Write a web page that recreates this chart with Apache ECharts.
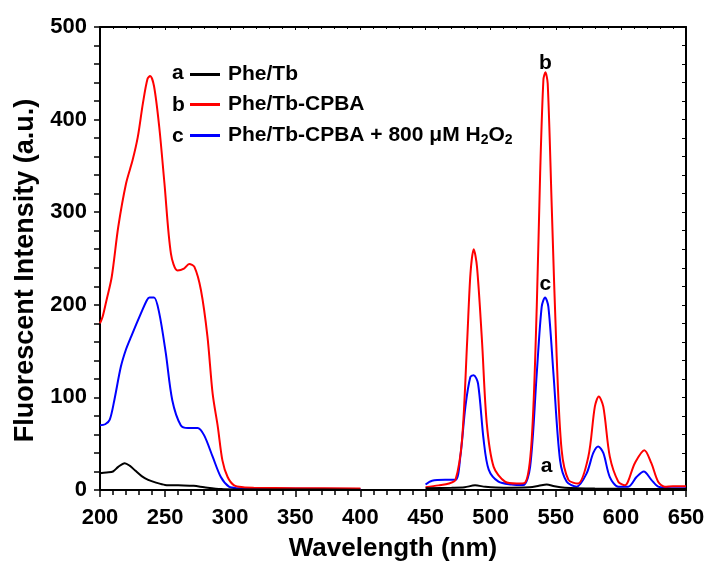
<!DOCTYPE html>
<html>
<head>
<meta charset="utf-8">
<script src="https://cdn.jsdelivr.net/npm/echarts@6/dist/echarts.min.js"></script>
<style>
  html, body { margin: 0; padding: 0; background: #fff; }
  #chart { width: 708px; height: 566px; }
</style>
</head>
<body>
<div id="chart"></div>
<script>
// wavelength ticks
const xTicks = [200, 250, 300, 350, 400, 450, 500, 550, 600, 650];
const yTicks = [0, 100, 200, 300, 400, 500];

const seriesNames = ['Phe/Tb', 'Phe/Tb-CPBA', 'Phe/Tb-CPBA + 800 μM H2O2'];
const seriesLetters = ['a', 'b', 'c'];
const seriesColors = ['#000000', '#ff0000', '#0000ff'];

// a: Phe/Tb, excitation part (200-400) and emission part (450-650)
const aExc = [[200, 18], [205, 19], [210, 20], [214, 25], [219, 29], [223, 26], [227, 21],
  [232, 15], [237, 11], [243, 8], [250, 5.5], [260, 5], [272, 4.5], [280, 3], [293, 1],
  [305, 0.6], [350, 0.5], [400, 0.4]];
const aEm = [[450, 2], [470, 2.5], [480, 3], [488, 5], [496, 3.5], [510, 2.5], [530, 3],
  [537, 4.5], [543, 6], [549, 4], [557, 2.5], [580, 1.5], [610, 1.2], [650, 1]];

// b: Phe/Tb-CPBA
const bExc = [[200, 180], [202, 187], [205, 205], [209, 230], [214, 284], [220, 331],
  [225, 356], [229, 381], [233, 418], [236.5, 444], [238.5, 447], [241.5, 436],
  [245.5, 392], [249.5, 331], [254.5, 255], [259.5, 237], [264.5, 239], [268.5, 244],
  [272.5, 241], [277.5, 216], [282.5, 166], [286.5, 104], [290.5, 68], [294, 32],
  [298, 14], [303, 5], [310, 3], [318, 2.5], [350, 2], [400, 1.5]];
const bEm = [[450, 3], [460, 5], [468, 7], [473, 11], [478, 54], [482, 162], [484.5, 234],
  [487, 260], [489.5, 241], [493.3, 162], [497, 72], [502.3, 25], [511, 9], [520, 7],
  [526.5, 8], [531.5, 54], [535.4, 198], [538, 342], [540.5, 443], [542, 451],
  [543.8, 439], [546.9, 306], [550.7, 144], [554.5, 43], [559.7, 11], [567, 7],
  [575, 36], [580, 90], [583, 101], [586.5, 90], [591.5, 36], [598, 9], [603, 5],
  [610.7, 29], [618, 43], [623.4, 29], [628.6, 9], [633.7, 3.6], [640, 4], [650, 4]];

// c: Phe/Tb-CPBA + 800 μM H2O2
const cExc = [[200, 70], [204, 71], [207.5, 76], [211, 97], [216, 133], [220, 152],
  [224, 166], [231.5, 191], [236, 205], [238, 208], [241.5, 208], [245.5, 191],
  [250.5, 148], [255.5, 97], [262, 70], [267.5, 67], [275, 67], [280, 59], [286.5, 36],
  [292.8, 14], [299, 3.6], [305, 2], [330, 1.5], [400, 1]];
const cEm = [[450, 6], [455, 10], [465, 11], [473, 11], [476.7, 36], [480.6, 90],
  [484.4, 122], [487, 124], [490.3, 115], [494.6, 54], [498.5, 22], [506, 9],
  [516, 6], [525, 5.4], [530.3, 25], [535.4, 126], [539.2, 198], [541.8, 208],
  [544.3, 198], [548.2, 126], [553.3, 32], [558.4, 9], [566, 3.6], [573.7, 18],
  [578.8, 40], [582.6, 47], [586.5, 40], [591.5, 14], [598, 3.6], [605.6, 3.6],
  [612, 14], [617.6, 20], [623.4, 11], [628.6, 3.6], [638.8, 2], [650, 2]];

// peak labels: letter, wavelength, intensity at peak
const peakLabels = [['a', 543, 6], ['b', 542, 451], ['c', 542, 208]];

const FONT = 'Liberation Sans, Arial, sans-serif';

function joinParts(exc, em) {
    // the two scans are not connected between 400 and 450 nm
    return exc.concat([[425, '-']], em);
}

const allData = [joinParts(aExc, aEm), joinParts(bExc, bEm), joinParts(cExc, cEm)];

const chart = echarts.init(document.getElementById('chart'));

const peakOffsets = { a: 8, b: -1, c: 3 };

const series = seriesNames.map((name, i) => {
    const lab = peakLabels.find(p => p[0] === seriesLetters[i]);
    return {
        name: name,
        type: 'line',
        data: allData[i],
        showSymbol: false,
        smooth: 0.3,
        connectNulls: false,
        lineStyle: { color: seriesColors[i], width: 2 },
        itemStyle: { color: seriesColors[i] },
        z: i === 0 ? 4 : 3 - i + 1,
        markPoint: {
            symbol: 'circle',
            symbolSize: 0,
            silent: true,
            data: [{
                coord: [lab[1], lab[2]],
                label: {
                    show: true,
                    position: 'top',
                    distance: peakOffsets[lab[0]],
                    formatter: lab[0],
                    color: '#000',
                    fontFamily: FONT,
                    fontWeight: 'bold',
                    fontSize: 21
                }
            }]
        }
    };
});

const axisLabelStyle = {
    color: '#000',
    fontFamily: FONT,
    fontWeight: 'bold',
    fontSize: 22
};

chart.setOption({
    animation: false,
    backgroundColor: '#fff',
    grid: { left: 100, right: 22, top: 27, bottom: 76, outerBoundsMode: 'none', containLabel: false },
    legend: {
        orient: 'vertical',
        left: 185,
        top: 59,
        itemWidth: 30,
        itemHeight: 3,
        itemGap: 9,
        icon: 'rect',
        selectedMode: false,
        data: seriesNames,
        formatter: function (name) {
            if (name.indexOf('H2O2') >= 0) {
                return '{n|' + name.replace('H2O2', 'H') + '}{s|2}{n|O}{s|2}';
            }
            return '{n|' + name + '}';
        },
        textStyle: {
            color: '#000',
            fontFamily: FONT,
            fontWeight: 'bold',
            fontSize: 21,
            padding: [0, 0, 0, 3],
            rich: {
                n: { fontFamily: FONT, fontWeight: 'bold', fontSize: 21, lineHeight: 23, color: '#000' },
                s: { fontFamily: FONT, fontWeight: 'bold', fontSize: 14, lineHeight: 23, padding: [9, 0, 0, 0], color: '#000' }
            }
        }
    },
    graphic: seriesLetters.map((l, i) => ({
        type: 'text',
        left: 172,
        top: 63 + i * 31.5,
        style: { text: l, fill: '#000', font: 'bold 21px ' + FONT }
    })),
    xAxis: [{
        type: 'value',
        min: 200,
        max: 650,
        interval: 50,
        name: 'Wavelength (nm)',
        nameLocation: 'middle',
        nameGap: 46,
        nameTextStyle: { color: '#000', fontFamily: FONT, fontWeight: 'bold', fontSize: 26 },
        axisLine: { show: true, onZero: false, lineStyle: { color: '#000', width: 2 } },
        axisTick: { show: true, inside: false, length: 7, lineStyle: { color: '#000', width: 1.5 } },
        minorTick: { show: true, splitNumber: 5, length: 5, lineStyle: { color: '#000', width: 1.5 } },
        axisLabel: Object.assign({ margin: 17 }, axisLabelStyle),
        splitLine: { show: false }
    }, {
        type: 'value',
        position: 'top',
        min: 200,
        max: 650,
        interval: 50,
        axisLine: { show: true, onZero: false, lineStyle: { color: '#000', width: 2 } },
        axisTick: { show: true, inside: true, length: 3, lineStyle: { color: '#000', width: 1 } },
        minorTick: { show: true, splitNumber: 5, length: 2, lineStyle: { color: '#000', width: 1 } },
        axisLabel: { show: false },
        splitLine: { show: false }
    }],
    yAxis: [{
        type: 'value',
        min: 0,
        max: 500,
        interval: 100,
        name: 'Fluorescent Intensity (a.u.)',
        nameLocation: 'middle',
        nameGap: 60,
        nameTextStyle: { color: '#000', fontFamily: FONT, fontWeight: 'bold', fontSize: 27, padding: [0, 24, 0, 0] },
        axisLine: { show: true, onZero: false, lineStyle: { color: '#000', width: 2 } },
        axisTick: { show: true, inside: false, length: 6, lineStyle: { color: '#000', width: 1.5 } },
        minorTick: { show: true, splitNumber: 5, length: 6, lineStyle: { color: '#000', width: 1.5 } },
        axisLabel: Object.assign({ margin: 13 }, axisLabelStyle),
        splitLine: { show: false }
    }, {
        type: 'value',
        position: 'right',
        min: 0,
        max: 500,
        interval: 100,
        axisLine: { show: true, onZero: false, lineStyle: { color: '#000', width: 2 } },
        axisTick: { show: true, inside: true, length: 4, lineStyle: { color: '#000', width: 1 } },
        minorTick: { show: true, splitNumber: 5, length: 4, lineStyle: { color: '#000', width: 1 } },
        axisLabel: { show: false },
        splitLine: { show: false }
    }],
    series: series
});
</script>
</body>
</html>
